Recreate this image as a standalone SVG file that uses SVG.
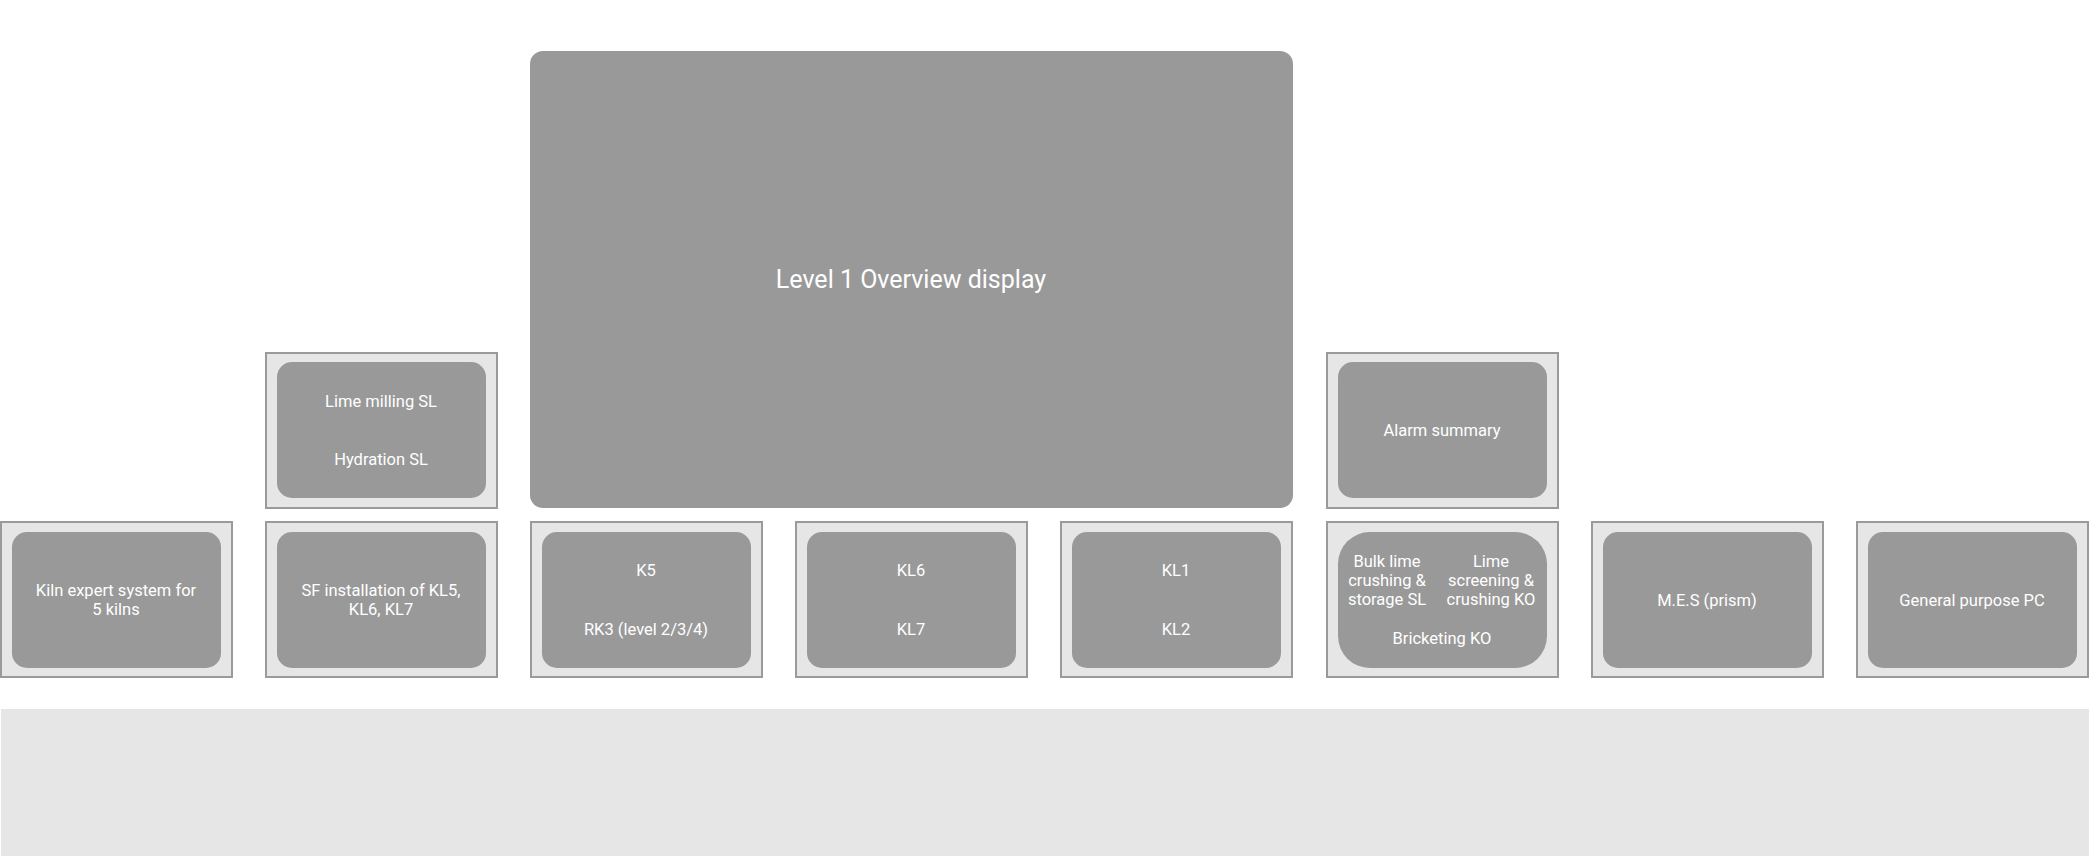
<svg xmlns="http://www.w3.org/2000/svg" width="2089" height="856" viewBox="0 0 2089 856">
<style>
.f{fill:#e6e6e6;stroke:#9a9a9a;stroke-width:2}
.i{fill:#999999}
text{font-family:Roboto,"Liberation Sans",sans-serif;fill:#ffffff;font-size:16.5px;text-anchor:middle}
.t{font-size:25px}
</style>
<rect width="2089" height="856" fill="#ffffff"/>
<rect x="1" y="709" width="2088" height="147" fill="#e6e6e6"/>
<g id="overview"><rect x="530" y="51" width="763" height="457" rx="13" class="i"/><text class="t" x="911" y="288">Level 1 Overview display</text></g>
<g id="lime-milling"><rect x="266" y="353" width="231" height="155" class="f"/><rect x="277" y="362" width="209" height="136" rx="15" class="i"/><text x="381" y="407">Lime milling SL</text><text x="381" y="465">Hydration SL</text></g>
<g id="alarm"><rect x="1327" y="353" width="231" height="155" class="f"/><rect x="1338" y="362" width="209" height="136" rx="15" class="i"/><text x="1442" y="436">Alarm summary</text></g>
<g id="kiln-expert"><rect x="1" y="522" width="231" height="155" class="f"/><rect x="12" y="532" width="209" height="136" rx="15" class="i"/><text x="116" y="596">Kiln expert system for</text><text x="116" y="615">5 kilns</text></g>
<g id="sf"><rect x="266" y="522" width="231" height="155" class="f"/><rect x="277" y="532" width="209" height="136" rx="15" class="i"/><text x="381" y="596">SF installation of KL5,</text><text x="381" y="615">KL6, KL7</text></g>
<g id="k5"><rect x="531" y="522" width="231" height="155" class="f"/><rect x="542" y="532" width="209" height="136" rx="15" class="i"/><text x="646" y="576">K5</text><text x="646" y="635">RK3 (level 2/3/4)</text></g>
<g id="kl6"><rect x="796" y="522" width="231" height="155" class="f"/><rect x="807" y="532" width="209" height="136" rx="15" class="i"/><text x="911" y="576">KL6</text><text x="911" y="635">KL7</text></g>
<g id="kl1"><rect x="1061" y="522" width="231" height="155" class="f"/><rect x="1072" y="532" width="209" height="136" rx="15" class="i"/><text x="1176" y="576">KL1</text><text x="1176" y="635">KL2</text></g>
<g id="bulk"><rect x="1327" y="522" width="231" height="155" class="f"/><rect x="1338" y="532" width="209" height="136" rx="32" class="i"/><text x="1387" y="567">Bulk lime</text><text x="1387" y="586">crushing &amp;</text><text x="1387" y="605">storage SL</text><text x="1491" y="567">Lime</text><text x="1491" y="586">screening &amp;</text><text x="1491" y="605">crushing KO</text><text x="1442" y="644">Bricketing KO</text></g>
<g id="mes"><rect x="1592" y="522" width="231" height="155" class="f"/><rect x="1603" y="532" width="209" height="136" rx="15" class="i"/><text x="1707" y="606">M.E.S (prism)</text></g>
<g id="pc"><rect x="1857" y="522" width="231" height="155" class="f"/><rect x="1868" y="532" width="209" height="136" rx="15" class="i"/><text x="1972" y="606">General purpose PC</text></g>
<g id="connectors"></g>
</svg>
